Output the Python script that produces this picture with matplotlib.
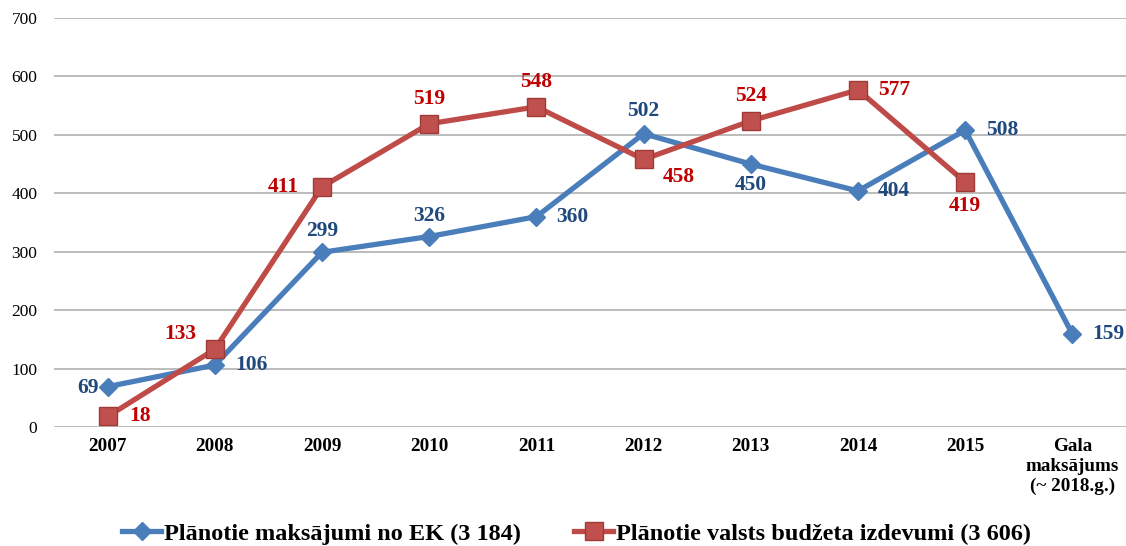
import numpy as np
import matplotlib.pyplot as plt

# Dati
kategorijas = ["2007", "2008", "2009", "2010", "2011", "2012", "2013", "2014", "2015",
               "Gala\nmaksājums\n(~ 2018.g.)"]
ek_maksajumi = [69, 106, 299, 326, 360, 502, 450, 404, 508, 159]
budzeta_izdevumi = [18, 133, 411, 519, 548, 458, 524, 577, 419]

# Etiķešu novietojums (dx, dy punktos)
ek_off = [(-14, -1), (26, 0), (0, 15), (0, 15), (26, 0), (0, 16), (0, -15), (26, 0), (27, 0), (26, 0)]
bud_off = [(23, 0), (-25, 11), (-28, 0), (0, 18), (0, 18), (25, -13), (0, 18), (26, 0), (0, -17)]

plt.rcParams['font.family'] = ['Liberation Serif', 'DejaVu Serif']

fig = plt.figure(figsize=(11.26, 5.46), dpi=100)
ax = fig.add_axes([0.048, 0.218, 0.952, 0.749])

x = np.arange(len(kategorijas))
zila = '#4a7ebb'
sarkana = '#be4b48'

ax.plot(x, ek_maksajumi, color=zila, lw=3.8, marker='D', ms=9,
        markerfacecolor=zila, markeredgecolor=zila, zorder=3,
        label='Plānotie maksājumi no EK (3 184)')
ax.plot(x[:len(budzeta_izdevumi)], budzeta_izdevumi, color=sarkana, lw=3.8, marker='s', ms=13,
        markerfacecolor='#c0504d', markeredgecolor='#a03a37', zorder=4,
        label='Plānotie valsts budžeta izdevumi (3 606)')

for i, v in enumerate(ek_maksajumi):
    ax.annotate(str(v), (x[i], v), xytext=ek_off[i], textcoords='offset points',
                ha='center', va='center', fontsize=15.5, fontweight='bold', color='#1f497d', zorder=5)
for i, v in enumerate(budzeta_izdevumi):
    ax.annotate(str(v), (x[i], v), xytext=bud_off[i], textcoords='offset points',
                ha='center', va='center', fontsize=15.5, fontweight='bold', color='#c00000', zorder=5)

ax.set_xlim(-0.5, len(kategorijas) - 0.5)
ax.set_ylim(0, 700)
ax.set_yticks(range(0, 701, 100))
ax.set_xticks(x)
ax.set_xticklabels(kategorijas, fontweight='bold', fontsize=13.8)
ax.tick_params(axis='y', labelsize=12.5, length=0, pad=12)
ax.tick_params(axis='x', length=0, pad=8)
ax.grid(axis='y', color='#b0b0b0', lw=1.2)
ax.set_axisbelow(True)
for s in ax.spines.values():
    s.set_visible(False)

leg = fig.legend(loc='center', bbox_to_anchor=(0.512, 0.022), ncol=2, frameon=False,
                 prop={'weight': 'bold', 'size': 17.5}, handlelength=1.6, columnspacing=2.2,
                 handletextpad=0.1)

fig.savefig('out.png', dpi=100)
